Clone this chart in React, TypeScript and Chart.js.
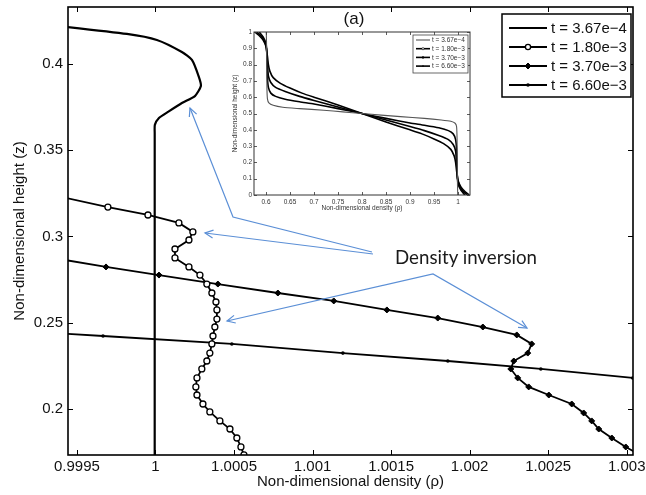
import React, { useEffect, useRef } from 'react';
import { Chart, registerables } from 'chart.js';

Chart.register(...registerables);

const FONT = "'Liberation Sans', Arial, Helvetica, sans-serif";

// ---------- main chart: axes ----------
const X_TICKS = [0.9995, 1, 1.0005, 1.001, 1.0015, 1.002, 1.0025, 1.003];
const X_TICK_LABELS = ['0.9995', '1', '1.0005', '1.001', '1.0015', '1.002', '1.0025', '1.003'];
const Y_TICKS = [0.2, 0.25, 0.3, 0.35, 0.4];
const Y_TICK_LABELS = ['0.2', '0.25', '0.3', '0.35', '0.4'];
const X_MIN = 0.999443;
const X_MAX = 1.00304;
const Y_MIN = 0.17335;
const Y_MAX = 0.4329;

const SERIES_LABELS = ['t = 3.67e\u22124', 't = 1.80e\u22123', 't = 3.70e\u22123', 't = 6.60e\u22123'];

// ---------- main chart: series ----------
const RHO_1 = [0.999265, 0.999818, 1.000009, 1.000168, 1.000232, 1.000276, 1.000289, 1.000251, 1.000168, 1.000079, 1.000022, 0.999996, 0.999995, 0.999995];
const Z_1 = [0.4231, 0.4173, 0.4138, 0.4068, 0.4022, 0.3924, 0.3871, 0.3813, 0.3773, 0.3721, 0.3686, 0.3646, 0.3599, 0.17];

const RHO_2 = [0.99936, 0.999697, 0.999952, 1.000149, 1.000238, 1.000213, 1.000124, 1.000124, 1.000213, 1.000283, 1.000327, 1.000359, 1.000385, 1.000391, 1.000391, 1.000378, 1.000366, 1.000359, 1.000346, 1.000327, 1.000295, 1.000264, 1.000257, 1.000264, 1.000302, 1.000346, 1.00041, 1.000474, 1.000518, 1.000544, 1.000563];
const Z_2 = [0.3237, 0.317, 0.3124, 0.3078, 0.3026, 0.2979, 0.2927, 0.2875, 0.2823, 0.2776, 0.2724, 0.2672, 0.262, 0.2574, 0.2521, 0.2475, 0.2423, 0.2377, 0.2324, 0.2278, 0.2232, 0.218, 0.2128, 0.2081, 0.2029, 0.1983, 0.1931, 0.1884, 0.1832, 0.178, 0.1734];

const RHO_3 = [0.999347, 0.999685, 1.000022, 1.000397, 1.000779, 1.001135, 1.001473, 1.001797, 1.002084, 1.0023, 1.002395, 1.00237, 1.002281, 1.002262, 1.002306, 1.002376, 1.002504, 1.00265, 1.002726, 1.002777, 1.002822, 1.002905, 1.002994, 1.003083];
const Z_3 = [0.2875, 0.2823, 0.2776, 0.2724, 0.2672, 0.2626, 0.2574, 0.2527, 0.2475, 0.2429, 0.2377, 0.2324, 0.2278, 0.2232, 0.218, 0.2128, 0.2081, 0.2029, 0.1977, 0.1931, 0.1884, 0.1832, 0.178, 0.1734];

const RHO_4 = [0.998755, 0.999666, 1.000486, 1.001193, 1.001861, 1.002453, 1.003038];
const Z_4 = [0.2475, 0.2423, 0.2377, 0.2324, 0.2278, 0.2232, 0.218];

// ---------- inset chart ----------
const INSET_X_TICKS = [0.6, 0.65, 0.7, 0.75, 0.8, 0.85, 0.9, 0.95, 1];
const INSET_X_LABELS = ['0.6', '0.65', '0.7', '0.75', '0.8', '0.85', '0.9', '0.95', '1'];
const INSET_Y_TICKS = [0, 0.1, 0.2, 0.3, 0.4, 0.5, 0.6, 0.7, 0.8, 0.9, 1];
const INSET_Y_LABELS = ['0', '0.1', '0.2', '0.3', '0.4', '0.5', '0.6', '0.7', '0.8', '0.9', '1'];

const INSET_RHO_A = [0.6005, 0.601, 0.6015, 0.602, 0.603, 0.606, 0.615, 0.635, 0.67, 0.72, 0.76, 0.8, 0.84, 0.88, 0.93, 0.965, 0.985, 0.994, 0.997, 0.998, 0.9985, 0.999, 0.9995];
const INSET_Z_A = [1.0, 0.95, 0.8, 0.65, 0.59, 0.565, 0.55, 0.538, 0.53, 0.52, 0.51, 0.5, 0.49, 0.481, 0.47, 0.46, 0.452, 0.44, 0.42, 0.35, 0.2, 0.05, 0.0];

const INSET_RHO_B = [0.586, 0.594, 0.6, 0.602, 0.603, 0.605, 0.61, 0.62, 0.64, 0.67, 0.7, 0.75, 0.8, 0.85, 0.9, 0.93, 0.96, 0.98, 0.99, 0.995, 0.997, 0.998, 1.0, 1.006, 1.014];
const INSET_Z_B = [1.0, 0.97, 0.93, 0.85, 0.72, 0.66, 0.625, 0.605, 0.588, 0.572, 0.558, 0.53, 0.5, 0.47, 0.442, 0.428, 0.412, 0.395, 0.375, 0.34, 0.28, 0.15, 0.07, 0.03, 0.0];

const INSET_RHO_C = [0.581, 0.59, 0.597, 0.601, 0.603, 0.605, 0.61, 0.62, 0.64, 0.67, 0.7, 0.75, 0.8, 0.85, 0.9, 0.93, 0.96, 0.98, 0.99, 0.995, 0.997, 0.999, 1.003, 1.01, 1.019];
const INSET_Z_C = [1.0, 0.975, 0.94, 0.9, 0.8, 0.73, 0.69, 0.66, 0.635, 0.605, 0.58, 0.54, 0.5, 0.46, 0.42, 0.395, 0.365, 0.34, 0.31, 0.27, 0.2, 0.1, 0.06, 0.025, 0.0];

const INSET_RHO_D = [0.577, 0.585, 0.594, 0.6, 0.603, 0.605, 0.608, 0.615, 0.63, 0.65, 0.675, 0.7, 0.75, 0.8, 0.85, 0.9, 0.925, 0.95, 0.97, 0.985, 0.992, 0.995, 0.997, 1.0, 1.006, 1.015, 1.023];
const INSET_Z_D = [1.0, 0.98, 0.95, 0.91, 0.85, 0.8, 0.76, 0.72, 0.685, 0.656, 0.625, 0.6, 0.552, 0.5, 0.448, 0.4, 0.375, 0.344, 0.315, 0.28, 0.24, 0.2, 0.15, 0.09, 0.05, 0.02, 0.0];

const zip = (xs: number[], ys: number[]) => xs.map((x, i) => ({ x, y: ys[i] }));

function drawMarker(ctx: CanvasRenderingContext2D, kind: string, x: number, y: number, r: number, lw: number) {
  if (kind === 'none') return;
  ctx.save();
  ctx.lineWidth = lw;
  ctx.strokeStyle = '#000';
  ctx.beginPath();
  if (kind === 'circle') {
    ctx.arc(x, y, r, 0, Math.PI * 2);
    ctx.fillStyle = '#fff';
    ctx.fill();
    ctx.stroke();
  } else if (kind === 'diamond') {
    ctx.moveTo(x, y - r);
    ctx.lineTo(x + r, y);
    ctx.lineTo(x, y + r);
    ctx.lineTo(x - r, y);
    ctx.closePath();
    ctx.fillStyle = '#000';
    ctx.fill();
    ctx.stroke();
  } else if (kind === 'dot') {
    ctx.arc(x, y, r, 0, Math.PI * 2);
    ctx.fillStyle = '#000';
    ctx.fill();
  }
  ctx.restore();
}

function makeFramePlugin(p: any) {
  return {
    id: 'frame',
    afterDatasetsDraw(chart: any) {
      const { ctx, chartArea: a } = chart;
      const xs = chart.scales.x;
      const ys = chart.scales.y;
      ctx.save();
      ctx.strokeStyle = p.color;
      ctx.lineWidth = p.tickWidth;
      ctx.beginPath();
      p.xTicks.forEach((v: number) => {
        const px = Math.round(xs.getPixelForValue(v)) + 0.5;
        ctx.moveTo(px, a.bottom);
        ctx.lineTo(px, a.bottom - p.tickLen);
        ctx.moveTo(px, a.top);
        ctx.lineTo(px, a.top + p.tickLen);
      });
      p.yTicks.forEach((v: number) => {
        const py = Math.round(ys.getPixelForValue(v)) + 0.5;
        ctx.moveTo(a.left, py);
        ctx.lineTo(a.left + p.tickLen, py);
        ctx.moveTo(a.right, py);
        ctx.lineTo(a.right - p.tickLen, py);
      });
      ctx.stroke();
      ctx.lineWidth = p.lineWidth;
      ctx.strokeRect(a.left, a.top, a.right - a.left, a.bottom - a.top);

      // legend
      const L = p.legend;
      const bx = a.right - L.right - L.width;
      const by = a.top + L.top;
      ctx.fillStyle = '#fff';
      ctx.fillRect(bx, by, L.width, L.height);
      ctx.lineWidth = L.borderWidth;
      ctx.strokeStyle = L.borderColor;
      ctx.strokeRect(bx, by, L.width, L.height);
      ctx.font = `${L.fontSize}px ${FONT}`;
      ctx.textBaseline = 'middle';
      ctx.textAlign = 'left';
      chart.data.datasets.forEach((ds: any, i: number) => {
        const y = by + L.firstRow + i * L.rowGap;
        const x0 = bx + L.sampleLeft;
        const x1 = x0 + L.sampleLen;
        ctx.strokeStyle = ds.borderColor;
        ctx.lineWidth = ds.borderWidth;
        ctx.beginPath();
        ctx.moveTo(x0, y);
        ctx.lineTo(x1, y);
        ctx.stroke();
        drawMarker(ctx, ds.marker, (x0 + x1) / 2, y, ds.legendMarkerR, ds.legendMarkerW);
        ctx.fillStyle = L.textColor;
        ctx.fillText(ds.label, x1 + L.textGap, y + 0.5);
      });

      if (p.title) {
        ctx.font = `${p.title.size}px ${FONT}`;
        ctx.fillStyle = '#111';
        ctx.textAlign = 'center';
        ctx.textBaseline = 'middle';
        ctx.fillText(p.title.text, p.title.x, p.title.y);
      }
      ctx.restore();
    },
  };
}

function linScale(opts: any) {
  const { min, max, ticks, labels, font, color, pad, fitSize, horizontal, title, titleFont, titlePad } = opts;
  return {
    type: 'linear',
    min,
    max,
    grid: { display: false, drawTicks: false },
    border: { display: false },
    afterBuildTicks: (s: any) => {
      s.ticks = ticks.map((v: number) => ({ value: v }));
    },
    afterFit: (s: any) => {
      if (horizontal) s.height = fitSize;
      else s.width = fitSize;
      s.paddingLeft = 0;
      s.paddingRight = 0;
      s.paddingTop = 0;
      s.paddingBottom = 0;
    },
    ticks: {
      autoSkip: false,
      maxRotation: 0,
      minRotation: 0,
      padding: pad,
      color,
      font: { family: FONT, size: font },
      callback: (_v: any, i: number) => labels[i],
    },
    title: {
      display: true,
      text: title,
      color,
      font: { family: FONT, size: titleFont },
      padding: titlePad,
    },
  };
}

function mainConfig(): any {
  const datasets = [
    {
      label: SERIES_LABELS[0],
      data: zip(RHO_1, Z_1),
      borderColor: '#000',
      borderWidth: 2.2,
      pointRadius: 0,
      tension: 0.2,
      marker: 'none',
      legendMarkerR: 0,
      legendMarkerW: 0,
    },
    {
      label: SERIES_LABELS[1],
      data: zip(RHO_2, Z_2),
      borderColor: '#000',
      borderWidth: 1.8,
      pointStyle: 'circle',
      pointRadius: 3,
      pointBorderWidth: 1.3,
      pointBackgroundColor: '#fff',
      pointBorderColor: '#000',
      marker: 'circle',
      legendMarkerR: 2.6,
      legendMarkerW: 1.3,
    },
    {
      label: SERIES_LABELS[2],
      data: zip(RHO_3, Z_3),
      borderColor: '#000',
      borderWidth: 1.8,
      pointStyle: 'rectRot',
      pointRadius: 3,
      pointBorderWidth: 1,
      pointBackgroundColor: '#000',
      pointBorderColor: '#000',
      marker: 'diamond',
      legendMarkerR: 3,
      legendMarkerW: 1,
    },
    {
      label: SERIES_LABELS[3],
      data: zip(RHO_4, Z_4),
      borderColor: '#000',
      borderWidth: 1.8,
      pointStyle: 'circle',
      pointRadius: 1.8,
      pointBorderWidth: 0,
      pointBackgroundColor: '#000',
      pointBorderColor: '#000',
      marker: 'dot',
      legendMarkerR: 1.8,
      legendMarkerW: 0,
    },
  ];
  return {
    type: 'line',
    data: { datasets },
    options: {
      responsive: false,
      animation: false,
      events: [],
      layout: { padding: { top: 7, right: 13, left: 0, bottom: 0 } },
      elements: { line: { fill: false } },
      plugins: { legend: { display: false }, tooltip: { enabled: false } },
      scales: {
        x: linScale({
          min: X_MIN, max: X_MAX, ticks: X_TICKS, labels: X_TICK_LABELS, font: 15, color: '#111', pad: 3,
          fitSize: 40, horizontal: true, title: 'Non-dimensional density (\u03c1)', titleFont: 15,
          titlePad: { top: 0, bottom: 4 },
        }),
        y: linScale({
          min: Y_MIN, max: Y_MAX, ticks: Y_TICKS, labels: Y_TICK_LABELS, font: 15, color: '#111', pad: 5,
          fitSize: 68, horizontal: false, title: 'Non-dimensional height (z)', titleFont: 15,
          titlePad: { top: 11, bottom: 0 },
        }),
      },
    },
    plugins: [
      makeFramePlugin({
        color: '#000', tickWidth: 1, tickLen: 5, lineWidth: 1.6, xTicks: X_TICKS, yTicks: Y_TICKS,
        legend: {
          right: 2, top: 7, width: 129, height: 83, borderWidth: 1.5, borderColor: '#000', fontSize: 15,
          textColor: '#111', firstRow: 14, rowGap: 19, sampleLeft: 7, sampleLen: 38, textGap: 4,
        },
      }),
    ],
  };
}

function insetConfig(): any {
  const mk = (label: string, rho: number[], z: number[], color: string, w: number, marker: string, r: number, mw: number) => ({
    label,
    data: zip(rho, z),
    borderColor: color,
    borderWidth: w,
    pointRadius: 0,
    tension: 0.2,
    marker,
    legendMarkerR: r,
    legendMarkerW: mw,
  });
  return {
    type: 'line',
    data: {
      datasets: [
        mk(SERIES_LABELS[0], INSET_RHO_A, INSET_Z_A, '#555', 1.1, 'none', 0, 0),
        mk(SERIES_LABELS[1], INSET_RHO_B, INSET_Z_B, '#000', 1.6, 'circle', 1.1, 0.6),
        mk(SERIES_LABELS[2], INSET_RHO_C, INSET_Z_C, '#000', 1.6, 'dot', 1.2, 0),
        mk(SERIES_LABELS[3], INSET_RHO_D, INSET_Z_D, '#000', 1.6, 'dot', 0.8, 0),
      ],
    },
    options: {
      responsive: false,
      animation: false,
      events: [],
      layout: { padding: { top: 24, right: 8, left: 0, bottom: 0 } },
      plugins: { legend: { display: false }, tooltip: { enabled: false } },
      scales: {
        x: linScale({
          min: 0.575, max: 1.025, ticks: INSET_X_TICKS, labels: INSET_X_LABELS, font: 6.5, color: '#333', pad: 3,
          fitSize: 23, horizontal: true, title: 'Non-dimensional density (\u03c1)', titleFont: 6.5,
          titlePad: { top: 0, bottom: 5.5 },
        }),
        y: linScale({
          min: 0, max: 1, ticks: INSET_Y_TICKS, labels: INSET_Y_LABELS, font: 6.5, color: '#333', pad: 2,
          fitSize: 34, horizontal: false, title: 'Non-dimensional height (z)', titleFont: 6.5,
          titlePad: { top: 11, bottom: 0 },
        }),
      },
    },
    plugins: [
      makeFramePlugin({
        color: '#333', tickWidth: 0.8, tickLen: 3, lineWidth: 1, xTicks: INSET_X_TICKS, yTicks: INSET_Y_TICKS,
        legend: {
          right: 2, top: 3, width: 55, height: 38, borderWidth: 0.8, borderColor: '#444', fontSize: 6.5,
          textColor: '#333', firstRow: 5, rowGap: 8.7, sampleLeft: 3, sampleLen: 14, textGap: 2,
        },
        title: { text: '(a)', size: 17, x: 134, y: 11.5 },
      }),
    ],
  };
}

const ARROW_COLOR = '#5b8fd6';

function chevron(tip: [number, number], from: [number, number], len = 9, ang = 0.45) {
  const dx = tip[0] - from[0];
  const dy = tip[1] - from[1];
  const d = Math.hypot(dx, dy);
  const ux = dx / d;
  const uy = dy / d;
  const w = (s: number) => {
    const c = Math.cos(s * ang);
    const sn = Math.sin(s * ang);
    const rx = ux * c - uy * sn;
    const ry = ux * sn + uy * c;
    return `${tip[0] - rx * len},${tip[1] - ry * len}`;
  };
  return `M${w(1)} L${tip[0]},${tip[1]} L${w(-1)}`;
}

export default function App() {
  const mainRef = useRef<HTMLCanvasElement>(null);
  const insetRef = useRef<HTMLCanvasElement>(null);

  useEffect(() => {
    const c1 = new Chart(mainRef.current as HTMLCanvasElement, mainConfig());
    const c2 = new Chart(insetRef.current as HTMLCanvasElement, insetConfig());
    return () => {
      c1.destroy();
      c2.destroy();
    };
  }, []);

  const p1: [number, number][] = [[190, 108], [233, 217], [372, 252]];
  const p2: [number, number][] = [[205, 233], [373, 254]];
  const p3: [number, number][] = [[227, 321], [433, 274], [527, 328]];
  const poly = (pts: [number, number][]) => 'M' + pts.map((q) => q.join(',')).join(' L');

  return (
    <div style={{ position: 'fixed', left: 0, top: 0, width: 646, height: 495, background: '#fff' }}>
      <canvas ref={mainRef} width={646} height={495} style={{ position: 'absolute', left: 0, top: 0 }} />
      <canvas ref={insetRef} width={258} height={210} style={{ position: 'absolute', left: 220, top: 8 }} />
      <svg
        width={646}
        height={495}
        style={{ position: 'absolute', left: 0, top: 0, pointerEvents: 'none' }}
      >
        <g fill="none" stroke={ARROW_COLOR} strokeWidth={1.2}>
          <path d={poly(p1)} />
          <path d={chevron(p1[0], p1[1])} />
          <path d={poly(p2)} />
          <path d={chevron(p2[0], p2[1])} />
          <path d={poly(p3)} />
          <path d={chevron(p3[0], p3[1])} />
          <path d={chevron(p3[2], p3[1])} />
        </g>
        <text
          x={395}
          y={264}
          fontFamily="Lato, 'Open Sans', sans-serif"
          fontSize={19}
          textLength={142}
          lengthAdjust="spacingAndGlyphs"
          fill="#1a1a1a"
        >
          Density inversion
        </text>
      </svg>
    </div>
  );
}
